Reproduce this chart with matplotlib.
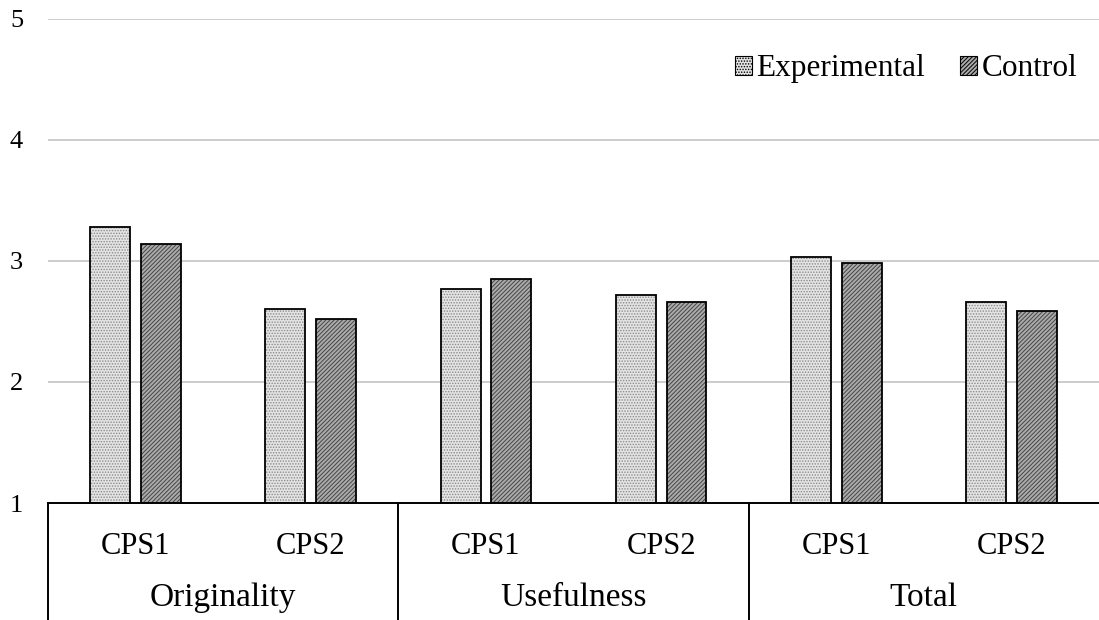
import matplotlib
matplotlib.use('Agg')
import matplotlib.pyplot as plt
from matplotlib.patches import Patch
import numpy as np

groups = ['Originality', 'Usefulness', 'Total']
sessions = ['CPS1', 'CPS2', 'CPS1', 'CPS2', 'CPS1', 'CPS2']
experimental = [3.28, 2.60, 2.77, 2.72, 3.03, 2.66]
control = [3.14, 2.52, 2.85, 2.66, 2.98, 2.59]

plt.rcParams['font.family'] = ['Liberation Serif', 'DejaVu Serif']
plt.rcParams['hatch.linewidth'] = 0.7

fig = plt.figure(figsize=(10.99, 6.2), dpi=100)
ax = fig.add_axes([0.0437, 0.1887, 0.9563, 0.7807])

x = np.arange(len(sessions))
w = 0.228
off = 0.145
base = 1
exp_face, exp_hatch = '#e4e4e4', '#8a8a8a'
ctl_face, ctl_hatch = '#ababab', '#454545'

# textured fills first, then black outlines on top
ax.bar(x - off, np.array(experimental) - base, w, bottom=base, color=exp_face,
       hatch='......', edgecolor=exp_hatch, linewidth=0, zorder=2)
ax.bar(x + off, np.array(control) - base, w, bottom=base, color=ctl_face,
       hatch='////////', edgecolor=ctl_hatch, linewidth=0, zorder=2)
ax.bar(x - off, np.array(experimental) - base, w, bottom=base, facecolor='none',
       edgecolor='black', linewidth=1.3, zorder=3)
ax.bar(x + off, np.array(control) - base, w, bottom=base, facecolor='none',
       edgecolor='black', linewidth=1.3, zorder=3)

ax.set_xlim(-0.5, len(sessions) - 0.5)
ax.set_ylim(1, 5)
ax.set_yticks([1, 2, 3, 4, 5])
ax.yaxis.grid(True, color='#bfbfbf', linewidth=1.1, zorder=0)
ax.set_axisbelow(True)
for s in ['left', 'right', 'top']:
    ax.spines[s].set_visible(False)
ax.spines['bottom'].set_linewidth(1.4)
ax.tick_params(axis='y', length=0, pad=18, labelsize=19)

ax.set_xticks(x)
ax.set_xticklabels(sessions, fontsize=22)
ax.tick_params(axis='x', length=0, pad=21)

# second level of category labels and separators
for i, g in enumerate(groups):
    ax.text(2 * i + 0.5, -0.196, g, transform=ax.get_xaxis_transform(),
            ha='center', va='center', fontsize=24)
for b in [-0.5, 1.5, 3.5]:
    ax.plot([b, b], [0, -0.3], transform=ax.get_xaxis_transform(),
            color='black', linewidth=1.4, clip_on=False)

# legend with small square keys
h1 = Patch(facecolor=exp_face, edgecolor='black', hatch='......', linewidth=0.8)
h2 = Patch(facecolor=ctl_face, edgecolor='black', hatch='////////', linewidth=0.8)
ax.legend([h1, h2], ['Experimental', 'Control'], loc='upper right',
          bbox_to_anchor=(1.0, 0.972), ncol=2, frameon=False, fontsize=22.5,
          handlelength=0.55, handleheight=0.55, handletextpad=0.15,
          columnspacing=1.1, borderaxespad=0.3)

fig.savefig('out.png', dpi=100)
